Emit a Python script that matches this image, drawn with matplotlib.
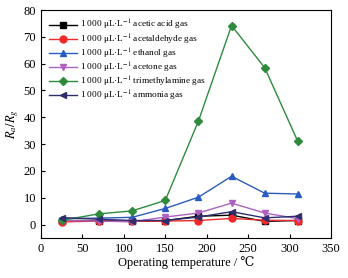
import matplotlib
matplotlib.use('Agg')
import matplotlib.pyplot as plt

plt.rcParams['font.family'] = ['Liberation Serif', 'DejaVu Serif']
plt.rcParams['mathtext.fontset'] = 'stix'

temps = [25, 70, 110, 150, 190, 230, 270, 310]
acetic = [1.5, 1.5, 1.2, 1.5, 3.1, 3.5, 1.2, 1.5]
acetaldehyde = [1.0, 1.3, 1.2, 1.3, 1.5, 2.3, 1.6, 1.5]
ethanol = [2.2, 2.4, 2.7, 6.0, 10.2, 18.0, 11.7, 11.4]
acetone = [1.5, 1.3, 1.0, 2.8, 4.3, 8.0, 4.3, 2.2]
trimethylamine = [1.6, 4.0, 5.1, 9.0, 38.6, 74.2, 58.5, 31.0]
ammonia = [2.6, 2.0, 1.5, 1.5, 2.8, 4.8, 2.5, 3.1]

pre = '1 000 μL·L$^{-1}$ '
series = [
    (acetic, 'acetic acid gas', 'black', 's'),
    (acetaldehyde, 'acetaldehyde gas', '#f02a2a', 'o'),
    (ethanol, 'ethanol gas', '#2a5cbf', '^'),
    (acetone, 'acetone gas', '#b060c0', 'v'),
    (trimethylamine, 'trimethylamine gas', '#2e8b3e', 'D'),
    (ammonia, 'ammonia gas', '#2e2e6e', '<'),
]

fig = plt.figure(figsize=(3.48, 2.78), dpi=100)
ax = fig.add_axes([0.118, 0.144, 0.833, 0.82])
for vals, name, col, mk in series:
    ms = 4.0 if mk == 'D' else 5.0
    ax.plot(temps, vals, color=col, marker=mk, markersize=ms, linewidth=1.0, label=pre + name)

ax.set_xlim(0, 350)
ax.set_ylim(-5, 80)
ax.set_xticks(range(0, 351, 50))
ax.set_yticks(range(0, 81, 10))
ax.tick_params(direction='in', labelsize=9, length=3)
ax.set_xlabel('Operating temperature / ℃', fontsize=9, labelpad=1)
ax.set_ylabel('$R_a/R_g$', fontsize=9, labelpad=2)
ax.legend(loc='upper left', frameon=False, fontsize=6.7, handlelength=3.0,
          handletextpad=0.3, labelspacing=0.0, borderaxespad=0.5,
          borderpad=0.4)

fig.savefig('out.png', dpi=100)
